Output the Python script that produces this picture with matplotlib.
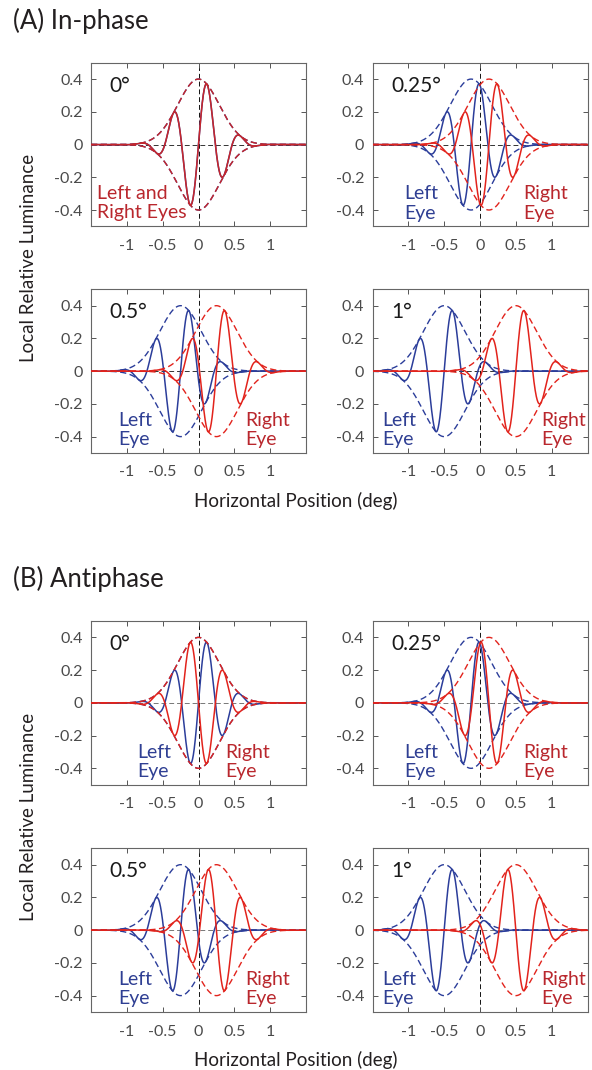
"""Gabor luminance profiles seen by the two eyes at several disparities.

Top block: in-phase carriers; bottom block: the right eye's carrier is inverted
(antiphase). Each panel shows the left/right-eye profiles with their envelopes.
"""

import matplotlib

matplotlib.use("Agg")
import matplotlib.pyplot as plt
import numpy as np

# panel order: disparity in degrees, with its label
disparities = [0.0, 0.25, 0.5, 1.0]
disparity_labels = ["0°", "0.25°", "0.5°", "1°"]

# Gabor parameters of the stimulus (deg / relative luminance)
amplitude = 0.4
sigma = 0.29
period = 0.47

# sign of the right-eye carrier for each block
blocks = ["(A) In-phase", "(B) Antiphase"]
right_sign = [1, -1]

# x position (deg) of the "Left Eye" / "Right Eye" annotations per block and panel
left_text_x = [[None, -1.06, -1.12, -1.37], [-0.85, -1.06, -1.12, -1.37]]
right_text_x = [[None, 0.60, 0.65, 0.86], [0.37, 0.60, 0.65, 0.86]]

BLUE = "#2b3d9a"
RED = "#e2231c"
BLUE_TXT = "#2f3f93"
RED_TXT = "#b9272d"
FONT = "Lato"

W, H = 592, 1070
plt.rcParams["font.family"] = [FONT, "DejaVu Sans"]


def gabor(x, center, sign):
    env = amplitude * np.exp(-(x - center) ** 2 / (2 * sigma ** 2))
    return sign * env * np.sin(2 * np.pi * (x - center) / period), env


def panel(ax, disp, label, sign, lx, rx, merged):
    x = np.linspace(-1.5, 1.5, 1201)
    yl, envl = gabor(x, -disp / 2, 1)
    yr, envr = gabor(x, disp / 2, sign)
    ax.axhline(0, color="#333333" if sign > 0 else "#777777", lw=0.7, ls=(0, (5, 3)), zorder=1)
    ax.axvline(0, color="#111111", lw=0.7, ls=(0, (5, 3)), zorder=1)
    dash = (0, (4.5, 2.5))
    ax.plot(x, envl, color=BLUE, lw=1.0, ls=dash, zorder=2)
    ax.plot(x, -envl, color=BLUE, lw=1.0, ls=dash, zorder=2)
    ax.plot(x, yl, color=BLUE, lw=1.1, zorder=3)
    red = "#c8262b" if merged else RED
    ax.plot(x, envr, color=red, lw=1.0, ls=dash, zorder=4)
    ax.plot(x, -envr, color=red, lw=1.0, ls=dash, zorder=4)
    ax.plot(x, yr, color=red, lw=1.1, zorder=5)

    ax.text(-1.24, 0.36, label, fontsize=15, color="#1a1a1a", va="center", ha="left")
    if merged:
        ax.text(-1.42, -0.355, "Left and\nRight Eyes", fontsize=14, color=RED_TXT,
                va="center", ha="left", linespacing=1.15)
    else:
        ax.text(lx, -0.36, "Left\nEye", fontsize=14, color=BLUE_TXT,
                va="center", ha="left", linespacing=1.15)
        ax.text(rx, -0.36, "Right\nEye", fontsize=14, color=RED_TXT,
                va="center", ha="left", linespacing=1.15)

    ax.set_xlim(-1.5, 1.5)
    ax.set_ylim(-0.5, 0.5)
    ax.set_xticks([-1, -0.5, 0, 0.5, 1])
    ax.set_xticklabels(["-1", "-0.5", "0", "0.5", "1"])
    ax.set_yticks([-0.4, -0.2, 0, 0.2, 0.4])
    ax.set_yticklabels(["-0.4", "-0.2", "0", "0.2", "0.4"])
    ax.tick_params(direction="in", top=True, right=True, length=3.5, width=0.7,
                   color="#555555", labelcolor="#4a4a4a", labelsize=11.5)
    ax.tick_params(axis="x", pad=9)
    ax.tick_params(axis="y", pad=6)
    for s in ax.spines.values():
        s.set_color("#666666")
        s.set_linewidth(0.8)


fig = plt.figure(figsize=(W / 100, H / 100), dpi=100)
col_left = [91, 372.5]
row_top = [[62.7, 289.3], [621, 848.3]]
ax_w, ax_h = 215, 163.7

for b, title in enumerate(blocks):
    for i, (disp, lab) in enumerate(zip(disparities, disparity_labels)):
        r, c = divmod(i, 2)
        top = row_top[b][r]
        ax = fig.add_axes([col_left[c] / W, 1 - (top + ax_h) / H, ax_w / W, ax_h / H])
        merged = b == 0 and disp == 0
        panel(ax, disp, lab, right_sign[b], left_text_x[b][i], right_text_x[b][i], merged)

    ytop = row_top[b][0]
    fig.text(13 / W, 1 - (ytop - 42) / H, title, fontsize=18.5, color="#231f20",
             ha="left", va="center")
    fig.text(296 / W, 1 - (row_top[b][1] + ax_h + 48) / H, "Horizontal Position (deg)",
             fontsize=13.5, color="#231f20", ha="center", va="center")
    mid = (row_top[b][0] + row_top[b][1] + ax_h) / 2
    fig.text(29 / W, 1 - mid / H, "Local Relative Luminance", fontsize=13.5,
             color="#231f20", ha="center", va="center", rotation=90)

fig.savefig("out.png", dpi=100, facecolor="white")
